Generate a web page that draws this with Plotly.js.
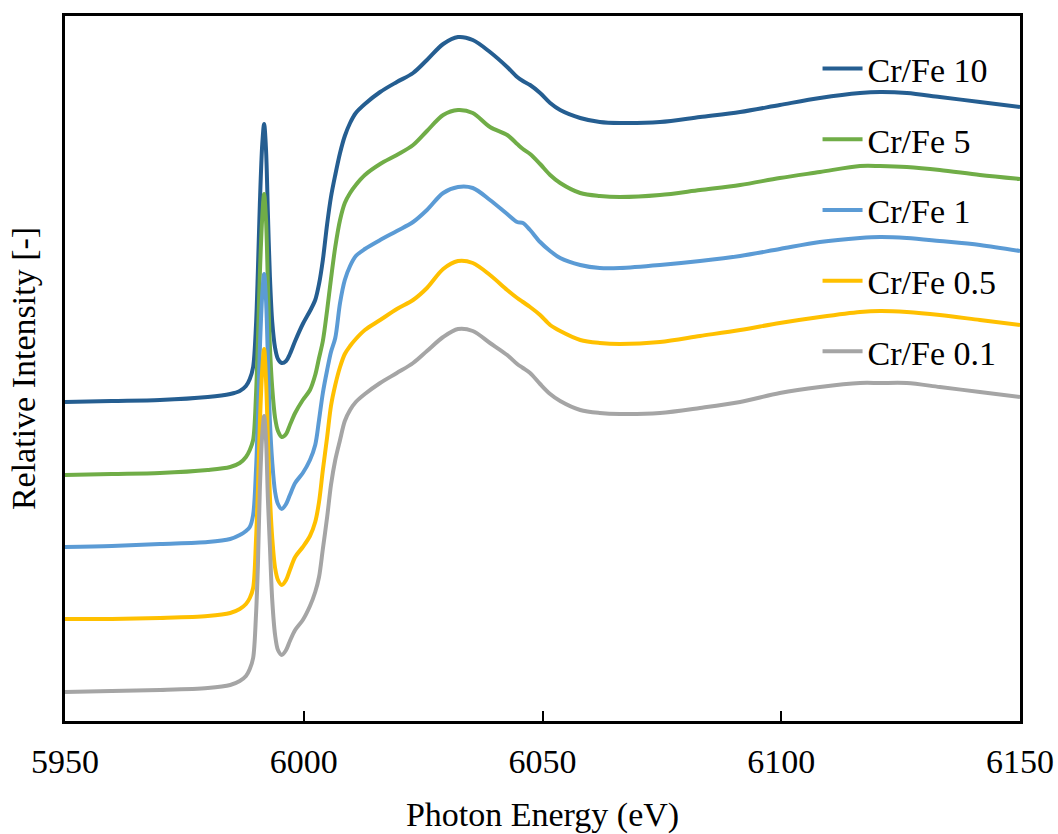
<!DOCTYPE html>
<html>
<head>
<meta charset="utf-8">
<script src="https://cdn.plot.ly/plotly-3.0.1.min.js"></script>
<style>
  html, body { margin: 0; padding: 0; background: #ffffff; }
  #chart { width: 1058px; height: 834px; }
</style>
</head>
<body>
<div id="chart"></div>
<script>
// Cr K-edge XANES spectra, offset vertically per Cr/Fe ratio
const energy = [
  5950.0, 5959.8, 5969.9, 5979.9, 5984.6, 5986.6, 5987.9, 5988.7, 5989.4, 5990.0,
  5990.4, 5990.8, 5991.3, 5991.7, 5992.1, 5992.5, 5992.9, 5993.4, 5994.0, 5994.6,
  5995.4, 5996.3, 5997.1, 5998.2, 5999.8, 6001.3, 6002.4, 6003.2, 6004.0, 6004.9,
  6005.7, 6006.6, 6007.6, 6008.6, 6009.7, 6010.9, 6012.8, 6016.0, 6019.5, 6022.9,
  6025.8, 6029.2, 6032.3, 6035.4, 6039.0, 6042.6, 6044.7, 6045.9, 6047.4, 6049.5,
  6051.6, 6053.7, 6057.9, 6062.0, 6066.2, 6074.6, 6083.0, 6091.4, 6099.7, 6108.1,
  6116.5, 6120.7, 6126.3, 6133.2, 6141.6, 6150.0
];

const crFe10 = [
  1.276, 1.280, 1.284, 1.296, 1.308, 1.320, 1.340, 1.368, 1.416, 1.584,
  1.804, 2.064, 2.304, 2.388, 2.284, 2.024, 1.784, 1.596, 1.492, 1.448,
  1.432, 1.440, 1.468, 1.520, 1.588, 1.640, 1.684, 1.748, 1.844, 1.988,
  2.096, 2.184, 2.272, 2.340, 2.392, 2.432, 2.468, 2.516, 2.556, 2.592,
  2.644, 2.708, 2.736, 2.724, 2.676, 2.616, 2.576, 2.560, 2.544, 2.512,
  2.472, 2.444, 2.412, 2.396, 2.392, 2.396, 2.416, 2.436, 2.464, 2.492,
  2.512, 2.516, 2.512, 2.496, 2.476, 2.456
];

const crFe5 = [
  0.984, 0.988, 0.992, 1.004, 1.016, 1.032, 1.056, 1.084, 1.124, 1.304,
  1.524, 1.784, 2.012, 2.108, 2.004, 1.744, 1.504, 1.332, 1.212, 1.160,
  1.136, 1.148, 1.184, 1.232, 1.284, 1.324, 1.384, 1.452, 1.520, 1.644,
  1.768, 1.896, 2.004, 2.072, 2.112, 2.144, 2.184, 2.228, 2.264, 2.304,
  2.360, 2.424, 2.444, 2.432, 2.376, 2.344, 2.308, 2.288, 2.268, 2.228,
  2.184, 2.152, 2.112, 2.100, 2.096, 2.104, 2.124, 2.144, 2.172, 2.196,
  2.220, 2.220, 2.216, 2.204, 2.184, 2.168
];

const crFe1 = [
  0.696, 0.700, 0.708, 0.716, 0.728, 0.744, 0.760, 0.776, 0.824, 1.004,
  1.212, 1.484, 1.704, 1.788, 1.684, 1.444, 1.204, 1.036, 0.916, 0.868,
  0.848, 0.868, 0.904, 0.952, 0.992, 1.044, 1.104, 1.204, 1.312, 1.404,
  1.476, 1.532, 1.672, 1.764, 1.820, 1.860, 1.888, 1.924, 1.960, 1.996,
  2.044, 2.112, 2.136, 2.132, 2.084, 2.028, 1.996, 1.992, 1.964, 1.916,
  1.880, 1.852, 1.824, 1.812, 1.812, 1.824, 1.840, 1.860, 1.888, 1.916,
  1.932, 1.936, 1.932, 1.920, 1.904, 1.880
];

const crFe05 = [
  0.408, 0.408, 0.412, 0.420, 0.432, 0.448, 0.468, 0.492, 0.532, 0.724,
  0.924, 1.184, 1.404, 1.488, 1.364, 1.124, 0.904, 0.732, 0.612, 0.564,
  0.544, 0.564, 0.604, 0.656, 0.696, 0.740, 0.796, 0.876, 1.004, 1.136,
  1.260, 1.344, 1.416, 1.468, 1.500, 1.528, 1.564, 1.604, 1.648, 1.684,
  1.732, 1.808, 1.840, 1.832, 1.784, 1.724, 1.692, 1.676, 1.656, 1.624,
  1.584, 1.560, 1.524, 1.512, 1.508, 1.516, 1.540, 1.564, 1.592, 1.616,
  1.636, 1.640, 1.636, 1.624, 1.604, 1.584
];

const crFe01 = [
  0.116, 0.120, 0.124, 0.132, 0.144, 0.160, 0.180, 0.208, 0.252, 0.424,
  0.624, 0.924, 1.144, 1.220, 1.124, 0.884, 0.704, 0.484, 0.344, 0.284,
  0.264, 0.284, 0.320, 0.364, 0.404, 0.460, 0.516, 0.576, 0.688, 0.816,
  0.944, 1.044, 1.124, 1.200, 1.244, 1.276, 1.308, 1.352, 1.392, 1.432,
  1.480, 1.536, 1.568, 1.560, 1.512, 1.464, 1.428, 1.412, 1.392, 1.348,
  1.308, 1.280, 1.244, 1.232, 1.228, 1.232, 1.252, 1.276, 1.312, 1.336,
  1.352, 1.352, 1.352, 1.336, 1.316, 1.296
];

const seriesNames = ['Cr/Fe 10', 'Cr/Fe 5', 'Cr/Fe 1', 'Cr/Fe 0.5', 'Cr/Fe 0.1'];
const seriesValues = [crFe10, crFe5, crFe1, crFe05, crFe01];
const seriesColors = ['#255E91', '#70AD47', '#5B9BD5', '#FFC000', '#A5A5A5'];

const FONT = 'Liberation Serif, Times New Roman, serif';

const traces = seriesNames.map((name, i) => ({
  type: 'scatter',
  mode: 'lines',
  name: name,
  legendgroup: 'g' + i,
  x: energy,
  y: seriesValues[i],
  line: { color: seriesColors[i], width: 4, shape: 'spline', smoothing: 0.9 },
  hoverinfo: 'x+y+name'
}));

const layout = {
  width: 1058,
  height: 834,
  paper_bgcolor: '#ffffff',
  plot_bgcolor: '#ffffff',
  margin: { l: 65, r: 38, t: 16, b: 113 },
  font: { family: FONT, size: 34, color: '#000000' },
  showlegend: true,
  legend: {
    x: 0.788, xanchor: 'left',
    y: 0.966, yanchor: 'top',
    bgcolor: 'rgba(0,0,0,0)',
    font: { family: FONT, size: 34, color: '#000000' },
    traceorder: 'grouped',
    tracegroupgap: 23.5,
    itemwidth: 40
  },
  xaxis: {
    range: [5950, 6150],
    tickvals: [5950, 6000, 6050, 6100, 6150],
    ticktext: ['5950', '6000', '6050', '6100', '6150'],
    ticks: 'inside',
    ticklen: 10,
    tickwidth: 2,
    tickcolor: '#000000',
    showline: true,
    linecolor: '#000000',
    linewidth: 3,
    mirror: true,
    showgrid: false,
    zeroline: false,
    tickfont: { family: FONT, size: 34, color: '#000000' },
    ticklabelstandoff: 8,
    title: { text: 'Photon Energy (eV)', font: { family: FONT, size: 34, color: '#000000' }, standoff: 32 }
  },
  yaxis: {
    range: [0, 2.82],
    showticklabels: false,
    ticks: '',
    showline: true,
    linecolor: '#000000',
    linewidth: 3,
    mirror: true,
    showgrid: false,
    zeroline: false,
    title: { text: 'Relative Intensity [-]', font: { family: FONT, size: 34, color: '#000000' }, standoff: 17 }
  }
};

Plotly.newPlot('chart', traces, layout, { displayModeBar: false, responsive: false });
</script>
</body>
</html>
